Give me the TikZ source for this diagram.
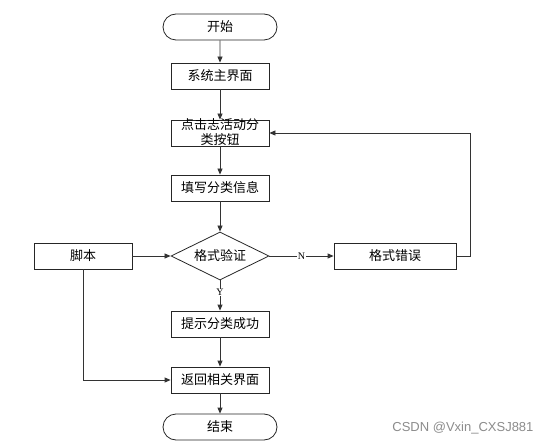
\documentclass[tikz,border=0pt]{standalone}
\usepackage{fontspec}
\newfontfamily\cjk{Noto Sans CJK SC}
\setmainfont{Liberation Serif}
\usetikzlibrary{shapes.geometric,shapes.misc,arrows.meta}
\begin{document}
\begin{tikzpicture}[x=1pt,y=-1pt,
  every node/.style={font=\cjk\fontsize{13}{15}\selectfont},
  box/.style={draw=black!85,line width=0.8pt,minimum width=98pt,minimum height=26pt,inner sep=0pt},
  term/.style={draw=black!85,line width=0.8pt,rounded rectangle,minimum width=114pt,minimum height=26pt,inner sep=0pt},
  dia/.style={draw=black!85,line width=0.8pt,diamond,aspect=2,minimum width=98pt,minimum height=48pt,inner sep=0pt},
  conn/.style={draw=black!80,line width=0.8pt,-{Triangle[length=6pt,width=5pt]}},
  lab/.style={font=\fontsize{10}{11}\selectfont,fill=white,inner sep=0.5pt}]
\useasboundingbox (0,0) rectangle (551,446);
\fill[white] (0,0) rectangle (551,446);
\node[term] (start) at (220,27) {开始};
\node[box] (main) at (220,76) {系统主界面};
\node[box] (click) at (220,133) {};
\node[align=center,inner sep=0pt] (clicktext) at (220,132) {点击志活动分\\类按钮};
\node[box] (fill) at (220,188) {填写分类信息};
\node[dia] (check) at (220,256) {格式验证};
\node[box] (script) at (83,256) {脚本};
\node[box,minimum width=122pt] (err) at (395,256) {格式错误};
\node[box] (ok) at (220,324) {提示分类成功};
\node[box] (back) at (220,380) {返回相关界面};
\node[term] (end) at (220,427) {结束};
\coordinate (loopa) at (470,256);
\coordinate (loopb) at (470,133);
\coordinate (scriptc) at (83,380);
\draw[conn] (start) -- (main);
\draw[conn] (main) -- (click);
\draw[conn] (click) -- (fill);
\draw[conn] (fill) -- (check);
\draw[conn] (script) -- (check);
\draw[conn] (check) -- node[lab] {N} (err);
\draw[conn] (check) -- node[lab,pos=0.4] {Y} (ok);
\draw[conn] (err.east) -- (loopa) -- (loopb) -- (click.east);
\draw[conn] (ok) -- (back);
\draw[conn] (script.south) -- (scriptc) -- (back.west);
\draw[conn] (back) -- (end);
\node[font=\fontspec{Liberation Sans}\fontsize{13}{14}\selectfont,text=black!45,anchor=east] (wm) at (537,428) {CSDN @Vxin\_CXSJ881};
\end{tikzpicture}
\end{document}
